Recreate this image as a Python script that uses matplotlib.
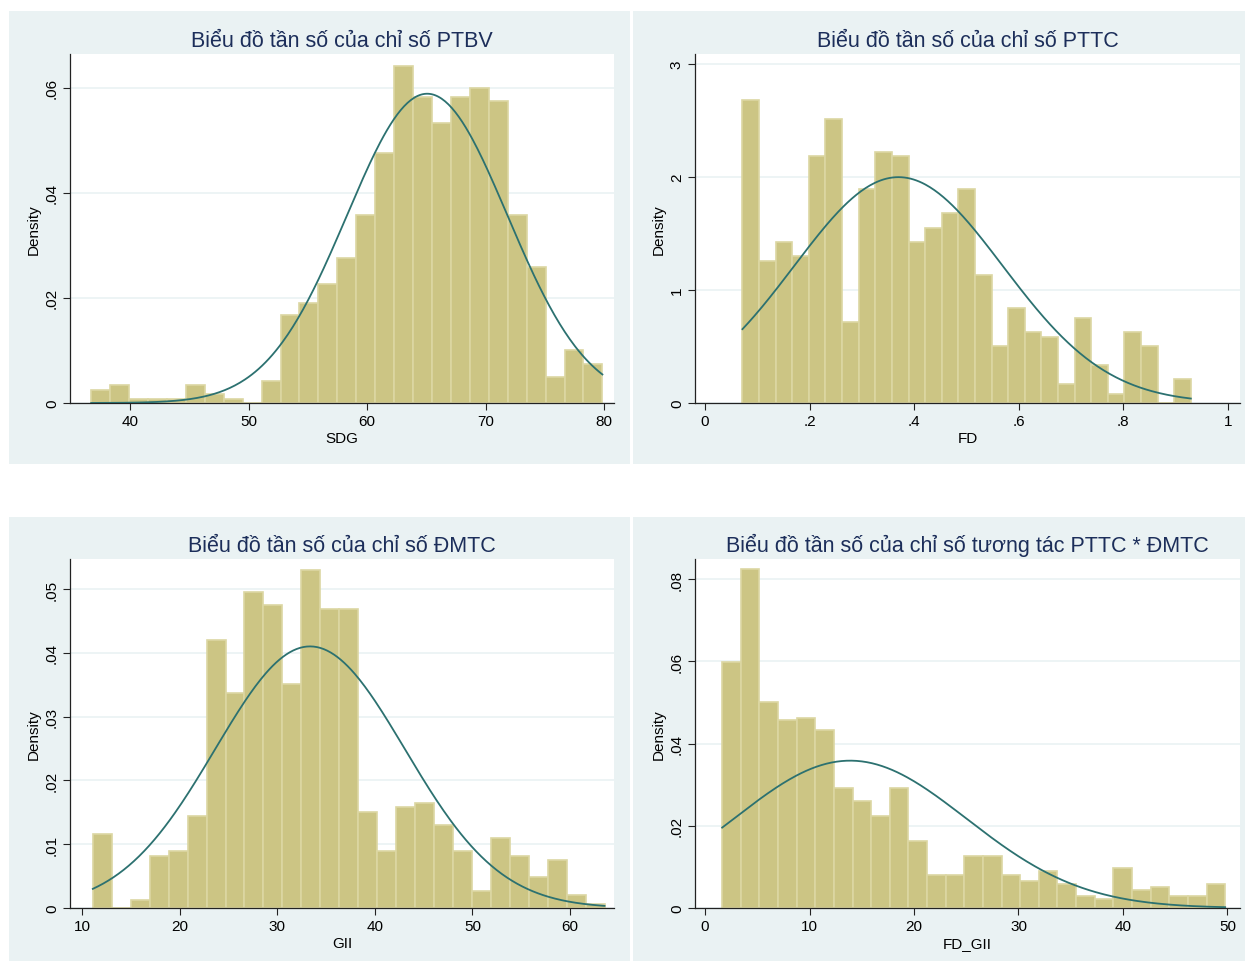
import numpy as np
import matplotlib
matplotlib.use("Agg")
import matplotlib.pyplot as plt
from matplotlib.patches import Rectangle

plt.rcParams['font.family'] = ['Liberation Sans', 'DejaVu Sans']

# --- data ---
sdg_range = (36.69, 79.87)
sdg_density = [0.0025, 0.0034, 0.0008, 0.0008, 0.0008, 0.0034, 0.0017, 0.0008, 0.0,
               0.0042, 0.0167, 0.0191, 0.0226, 0.0275, 0.0358, 0.0476, 0.0641, 0.0583,
               0.0533, 0.0583, 0.0600, 0.0574, 0.0358, 0.0258, 0.0049, 0.0100, 0.0075]
sdg_mean, sdg_sd = 65.07, 6.78

fd_range = (0.0717, 0.929)
fd_density = [2.686, 1.260, 1.426, 1.305, 2.183, 2.518, 0.719, 1.891, 2.225, 2.183,
              1.426, 1.553, 1.678, 1.891, 1.136, 0.503, 0.840, 0.630, 0.586, 0.169,
              0.754, 0.337, 0.080, 0.630, 0.503, 0.0, 0.213]
fd_mean, fd_sd = 0.370, 0.1995

gii_range = (11.11, 63.53)
gii_density = [0.0116, 0.0, 0.00125, 0.0082, 0.0089, 0.0144, 0.0420, 0.0337, 0.0495,
               0.0475, 0.0351, 0.0530, 0.0468, 0.0468, 0.0150, 0.0089, 0.0158, 0.0165,
               0.0130, 0.0089, 0.0027, 0.0110, 0.0082, 0.0048, 0.0075, 0.0020, 0.0007]
gii_mean, gii_sd = 33.36, 9.73

fdgii_range = (1.64, 49.78)
fdgii_density = [0.0599, 0.0824, 0.0502, 0.0457, 0.0463, 0.0434, 0.0291, 0.0261, 0.0224,
                 0.0291, 0.0163, 0.0081, 0.0081, 0.0127, 0.0127, 0.0081, 0.0066, 0.0089,
                 0.0059, 0.0029, 0.0022, 0.0097, 0.0044, 0.0051, 0.0029, 0.0029, 0.0059]
fdgii_mean, fdgii_sd = 13.89, 11.13

titles = ["Biểu đồ tần số của chỉ số PTBV", "Biểu đồ tần số của chỉ số PTTC",
          "Biểu đồ tần số của chỉ số ĐMTC", "Biểu đồ tần số của chỉ số tương tác PTTC * ĐMTC"]
xlabels = ["SDG", "FD", "GII", "FD_GII"]
xticks = [[40, 50, 60, 70, 80], [0, .2, .4, .6, .8, 1], [10, 20, 30, 40, 50, 60],
          [0, 10, 20, 30, 40, 50]]
yticks = [[0, .02, .04, .06], [0, 1, 2, 3], [0, .01, .02, .03, .04, .05],
          [0, .02, .04, .06, .08]]
xlims = [(34.9, 80.85), (-0.019, 1.023), (8.77, 64.5), (-0.96, 51.2)]
ylims = [(0, 0.0664), (0, 3.09), (0, 0.0547), (0, 0.0849)]

panels = [(sdg_range, sdg_density, sdg_mean, sdg_sd),
          (fd_range, fd_density, fd_mean, fd_sd),
          (gii_range, gii_density, gii_mean, gii_sd),
          (fdgii_range, fdgii_density, fdgii_mean, fdgii_sd)]

bg = "#EAF2F3"
bar_fc = "#CCC584"
bar_ec = "#DCD7A3"
curve_c = "#2C7170"
title_c = "#1C2E5A"

W, H = 1245, 962
fig = plt.figure(figsize=(W / 100, H / 100), dpi=100)

# panel backgrounds (pixel boxes: x0, y0, x1, y1 from top)
bg_boxes = [(9, 12, 630, 465), (633, 12, 1245, 465), (9, 518, 630, 962), (633, 518, 1245, 962)]
ax_boxes = [(70, 55, 614, 404), (695, 55, 1240, 404), (70, 560, 614, 909), (695, 560, 1240, 909)]


def fmt(v):
    s = "%g" % v
    if s.startswith("0."):
        s = s[1:]
    return s


for i in range(4):
    x0, y0, x1, y1 = bg_boxes[i]
    fig.patches.append(Rectangle((x0 / W, 1 - y1 / H), (x1 - x0) / W, (y1 - y0) / H,
                                 transform=fig.transFigure, facecolor=bg,
                                 edgecolor="none", zorder=-10))
    a0, b0, a1, b1 = ax_boxes[i]
    ax = fig.add_axes([a0 / W, 1 - b1 / H, (a1 - a0) / W, (b1 - b0) / H])
    rng, dens, mu, sd = panels[i]
    edges = np.linspace(rng[0], rng[1], len(dens) + 1)
    ax.bar(edges[:-1], dens, width=np.diff(edges), align="edge",
           color=bar_fc, edgecolor=bar_ec, linewidth=1.2, zorder=2)
    xs = np.linspace(rng[0], rng[1], 300)
    ys = np.exp(-0.5 * ((xs - mu) / sd) ** 2) / (sd * np.sqrt(2 * np.pi))
    ax.plot(xs, ys, color=curve_c, linewidth=1.3, zorder=3)

    ax.set_facecolor("white")
    ax.set_xlim(*xlims[i])
    ax.set_ylim(*ylims[i])
    ax.set_xticks(xticks[i])
    ax.set_xticklabels([fmt(v) for v in xticks[i]])
    ax.set_yticks(yticks[i])
    ax.set_yticklabels([fmt(v) for v in yticks[i]], rotation=90, va="center")
    ax.grid(axis="y", color=bg, linewidth=1.2, zorder=1)
    ax.set_axisbelow(True)
    for s in ["top", "right"]:
        ax.spines[s].set_visible(False)
    for s in ["left", "bottom"]:
        ax.spines[s].set_color("#222222")
        ax.spines[s].set_linewidth(0.9)
    ax.tick_params(labelsize=11, length=5, width=0.8, color="#222222", pad=3)
    ax.set_xlabel(xlabels[i], fontsize=11, labelpad=2)
    ax.set_ylabel("Density", fontsize=11, labelpad=3)
    ax.set_title(titles[i], fontsize=15.5, color=title_c, pad=6)

fig.savefig("out.png", dpi=100, facecolor="white")
